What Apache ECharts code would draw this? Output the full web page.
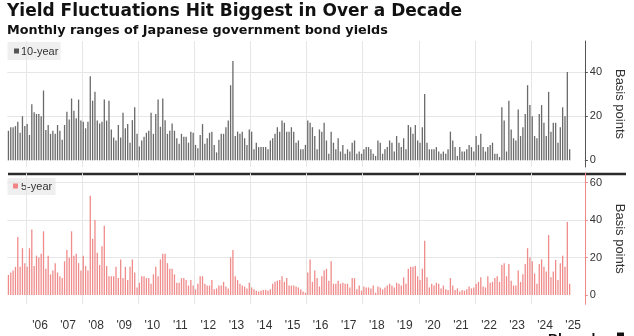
<!DOCTYPE html>
<html><head><meta charset="utf-8">
<script src="https://cdn.jsdelivr.net/npm/echarts@6/dist/echarts.min.js"></script>
<style>html,body{margin:0;padding:0;background:#fff}#c{width:634px;height:336px}</style>
</head><body><div id="c"></div>
<script>
// Monthly ranges (basis points), May 2005 .. May 2025
const startYear = 2005, startMonth = 5, padMonths = 6;
const tenYear = [
13.4,15,15,15.5,17.5,12.5,20,15.5,16.4,11.5,25.4,21.8,21,21,20,31.6,13.7,16,12,13.4,
12,16,13.4,9.3,16,22,18.5,28,22.4,19,27.5,18,17.5,14.5,17.5,38,27,31,18,16.7,
17.5,27.5,18,27,
14,10.4,9,16,10.4,21.5,14.5,16.4,8,18.2,24,12,6.3,9,10.7,12.5,13.4,21.5,12,21,
27.5,15.2,28,18.2,12,13.4,16.7,13.4,10,7.5,12,10.7,10.7,8,13,12.5,7,5.5,11.5,16.4,
7.5,10,12.5,13,7,3.6,9.3,
12,12,15,18,34,45,11,13,12,13,10,7,14,13,5,8,6,6,6,6,
5,9,10,12,15,13,18,17,13,13,15,13,8,9,5,5,7,18,17,15,
11,5,14,13,17,9,3,13,8,5,10,4,7,3,5,4,8,9,3,4,
3,5,6,6,5,3,2,9,8,3,5,6,9,8,4,11,8,6,10,5,
16,15,12,16,9,8,15,
30,8,5,5,5,6,4,3,4,3,5,13,9,6,2,6,4,4,5,7,
6,4,11,7,12,6,4,6,7,8,3,3,1.5,24,18,4,27,14,10,9,
23,11,15,21,34,25,20,11,10,21,25,17,11,31,13,17,17,8,15,24,
20,40,5
];
const fiveYear = [
10.7,12,13,15,31,15,25,17,15,25,35,15.5,21,20,22,34,14,21,11,13,
17,12,10,9,18,24,20,34,21,22,17,13,21,15.5,13,53,30,40,22.5,16,
26,37,15.5,10,10,10,15,9,19,9,15,8,15,19,12,4,6.5,10,10,9,
9,6,11,15,10,19,22,22,17,14,14,11,6.5,6.5,9,9,8,5,8,5,
3,6,10,10,6,5,
5,8,3,3.5,5,5,7,4.5,3.5,20,24,10,8,6,5,4.5,3.5,6.5,4,3,
2.3,1.8,2.3,2.7,2.7,2.3,3,6,7,7.6,8,10,7,9,5,5,5,4.5,4,3,
1.8,1.2,12,19,7,13,9,4.5,10,13,14,7.6,18,6,6,7.6,6,6.5,6,6,
4,9,9,3,5,2.3,4.5,4,4,3.5,5,1.2,4.5,4,3,4,5,6,5,4,
6.5,6,5,9.4,6,14,15,15,15.5,10,8,14,
29,9.4,4,6,5,6.5,6,3.5,5,3,2.7,9,5,2.7,3.5,1.8,2.7,2.3,3,4.5,
3.5,4,6,7,9.4,4.5,4,10,6.5,7,9,10,7,16,17,10,16.5,7.6,5,5,
13,7,11,16.5,25,20,18,11.5,6,16.5,19,15,12.5,32,9.4,12.5,18.7,8,17,21,
15,39,6
];
const topTicks = [0, 20, 40];
const bottomTicks = [0, 20, 40, 60];
const titleText = 'Yield Fluctuations Hit Biggest in Over a Decade';
const subtitleText = 'Monthly ranges of Japanese government bond yields';

const nMonths = tenYear.length + padMonths;
const categories = [];
for (let i = 0; i < nMonths; i++) {
  const m0 = startMonth - 1 + i;
  const y = startYear + Math.floor(m0 / 12);
  const mo = (m0 % 12) + 1;
  categories.push(y + '-' + String(mo).padStart(2, '0'));
}
const pad = arr => arr.concat(new Array(padMonths).fill(null));
const isGridMonth = (i, v) => v.endsWith('-01') && (+v.slice(0, 4)) % 2 === 0;
const isLabelMonth = (i, v) => v.endsWith('-07') && (+v.slice(0, 4)) >= 2006;

const gridLeft = 7.26, gridWidth = 578.4;
const chart = echarts.init(document.getElementById('c'), null, {renderer: 'canvas'});
const gridColor = '#e6e6e6';
const xBase = {
  type: 'category', data: categories, boundaryGap: true,
  axisLine: {show: false}, axisTick: {show: false},
  splitLine: {show: true, interval: isGridMonth, lineStyle: {color: gridColor, width: 1}}
};
const yBase = (ticks, lineColor, min, max, grid) => ({
  type: 'value', gridIndex: grid, position: 'right', min: min, max: max,
  axisLine: {show: true, lineStyle: {color: lineColor, width: 1}},
  axisTick: {show: true, length: 3, customValues: ticks, lineStyle: {color: lineColor}},
  axisLabel: {customValues: ticks, margin: 5, color: '#333', fontSize: 11, fontFamily: 'Liberation Sans'},
  splitLine: {show: true, lineStyle: {color: ['rgba(0,0,0,0)'].concat(new Array(ticks.length - 1).fill(gridColor)), width: 1}},
  name: 'Basis points', nameLocation: 'middle', nameRotate: -90, nameGap: 22,
  nameTextStyle: {color: '#333', fontSize: 13, fontFamily: 'Liberation Sans'}
});

chart.setOption({
  animation: false,
  grid: [
    {left: gridLeft, width: gridWidth, top: 41, height: 126},
    {left: gridLeft, width: gridWidth, top: 173.3, height: 131}
  ],
  xAxis: [
    Object.assign({}, xBase, {gridIndex: 0, axisLabel: {show: false}}),
    Object.assign({}, xBase, {gridIndex: 1, axisLabel: {
      show: true, interval: isLabelMonth, formatter: v => "'" + v.slice(2, 4),
      margin: 15, color: '#333', fontSize: 12, fontFamily: 'Liberation Sans', padding: [0, 2.3, 0, 0]
    }})
  ],
  yAxis: [
    yBase(topTicks, '#555', -3, 54, 0),
    yBase(bottomTicks, '#f08a8a', -5, 65, 1)
  ],
  series: [
    {type: 'bar', xAxisIndex: 0, yAxisIndex: 0, data: pad(tenYear), barWidth: 1.3,
     itemStyle: {color: '#6a6a6a'}, silent: true},
    {type: 'bar', xAxisIndex: 1, yAxisIndex: 1, data: pad(fiveYear), barWidth: 1.3,
     itemStyle: {color: '#f08b8b'}, silent: true}
  ],
  graphic: [
    {type: 'text', left: 7, top: 3, style: {text: titleText, font: 'bold 17px "DejaVu Sans"', fill: '#111'}},
    {type: 'text', left: 7, top: 24, style: {text: subtitleText, font: 'bold 12.8px "DejaVu Sans"', fill: '#111'}},
    {type: 'line', shape: {x1: 8, y1: 174, x2: 626, y2: 174}, style: {stroke: '#2b2b2b', lineWidth: 2.6}},
    {type: 'rect', shape: {x: 7.5, y: 42, width: 53, height: 18}, style: {fill: '#efefef'}},
    {type: 'rect', shape: {x: 14, y: 48.5, width: 5, height: 5}, style: {fill: '#555'}},
    {type: 'text', x: 21, y: 51.5, style: {text: '10-year', font: '11px "Liberation Sans"', fill: '#333', verticalAlign: 'middle'}},
    {type: 'rect', shape: {x: 7.5, y: 178, width: 48, height: 17}, style: {fill: '#efefef'}},
    {type: 'rect', shape: {x: 13, y: 183.5, width: 5, height: 5}, style: {fill: '#ef8585'}},
    {type: 'text', x: 21, y: 186.5, style: {text: '5-year', font: '11px "Liberation Sans"', fill: '#333', verticalAlign: 'middle'}},
    {type: 'text', x: 548, y: 340, style: {text: 'Bloomberg', font: 'bold 14px "Liberation Sans"', fill: '#111', verticalAlign: 'middle'}},
    {type: 'rect', shape: {x: 617, y: 332.5, width: 7, height: 5}, style: {fill: '#111'}}
  ]
});
</script>
</body></html>
